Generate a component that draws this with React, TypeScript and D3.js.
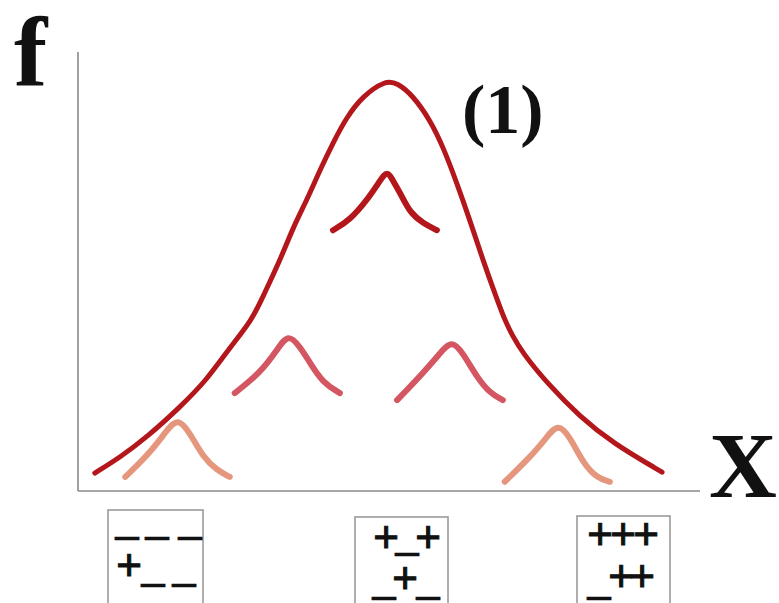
import * as d3 from "d3";

// main distribution (1); x in 0..10, f in 0..1
const mainX = [0.27, 0.68, 1.11, 1.64, 2.07, 2.41, 2.8, 2.97, 3.25, 3.46, 3.68, 3.89, 4.1, 4.32, 4.58, 4.94,
  5.13, 5.39, 5.66, 5.87, 6.09, 6.3, 6.51, 6.74, 6.86, 6.98, 7.15, 7.54, 8.07, 8.6, 9.39];
const mainF = [0.041, 0.077, 0.123, 0.191, 0.253, 0.321, 0.39, 0.442, 0.526, 0.601, 0.663, 0.731, 0.793, 0.852, 0.9, 0.935,
  0.93, 0.9, 0.845, 0.784, 0.702, 0.617, 0.526, 0.435, 0.39, 0.355, 0.314, 0.246, 0.169, 0.109, 0.043];

// small peaks
const topX = [4.1, 4.37, 4.65, 4.86, 4.97, 5.06, 5.18, 5.34, 5.55, 5.77];
const topF = [0.594, 0.617, 0.663, 0.708, 0.73, 0.708, 0.679, 0.633, 0.61, 0.594];
const midLeftX = [2.52, 2.93, 3.2, 3.38, 3.57, 3.73, 3.94, 4.21];
const midLeftF = [0.223, 0.269, 0.321, 0.36, 0.328, 0.292, 0.246, 0.223];
const midRightX = [5.13, 5.55, 5.82, 6.01, 6.19, 6.41, 6.62, 6.83];
const midRightF = [0.207, 0.269, 0.314, 0.344, 0.314, 0.26, 0.223, 0.207];
const lowLeftX = [0.76, 1.16, 1.43, 1.61, 1.8, 2.01, 2.23, 2.44];
const lowLeftF = [0.032, 0.087, 0.139, 0.167, 0.132, 0.077, 0.048, 0.032];
const lowRightX = [6.86, 7.27, 7.54, 7.72, 7.91, 8.12, 8.34, 8.55];
const lowRightF = [0.021, 0.077, 0.123, 0.155, 0.123, 0.064, 0.03, 0.021];

// spin configurations shown under the axis
const boxGlyphs = [
  ["–", "–", "–", "+", "–", "–"],
  ["+", "+", "–", "+", "–", "–"],
  ["+", "+", "+", "+", "+", "–"],
];

// layout
const boxes = [
  { x: 108, y: 510, w: 95 },
  { x: 355, y: 517, w: 93 },
  { x: 577, y: 516, w: 93 },
];
const glyphSpots = [
  [[127, 538], [157, 538], [190, 538], [129, 565], [153, 585], [184, 585]],
  [[386, 537], [428, 537], [407, 554], [405, 578], [384, 598], [428, 598]],
  [[600, 534], [623, 534], [646, 534], [621, 576], [642, 576], [599, 598]],
];

const W = 779;
const H = 603;

export default function App() {
  const x = d3.scaleLinear().domain([0, 10]).range([78, 700]);
  const y = d3.scaleLinear().domain([0, 1]).range([491, 52]);

  const line = d3
    .line<[number, number]>()
    .x((d) => x(d[0]))
    .y((d) => y(d[1]))
    .curve(d3.curveBasis);

  const zip = (xs: number[], fs: number[]) => xs.map((v, i) => [v, fs[i]] as [number, number]);

  const peaks = [
    { d: zip(topX, topF), color: "#b3171b" },
    { d: zip(midLeftX, midLeftF), color: "#d35662" },
    { d: zip(midRightX, midRightF), color: "#d35662" },
    { d: zip(lowLeftX, lowLeftF), color: "#e5977e" },
    { d: zip(lowRightX, lowRightF), color: "#e5977e" },
  ];

  const serif = "'Liberation Serif', 'DejaVu Serif', serif";
  const sans = "'Liberation Sans', Arial, sans-serif";
  const fs = 44;

  return (
    <svg width={W} height={H} style={{ position: "absolute", left: 0, top: 0, background: "#fff" }}>
      {/* axes */}
      <line x1={x(0)} x2={x(0)} y1={y(1)} y2={y(0)} stroke="#8a8a8a" strokeWidth={1.6} />
      <line x1={x(0)} x2={x(10)} y1={y(0)} y2={y(0)} stroke="#8a8a8a" strokeWidth={1.6} />

      <text x={14} y={86} fontFamily={serif} fontWeight="bold" fontSize={100} fill="#111">f</text>
      <text x={709} y={497} fontFamily={serif} fontWeight="bold" fontSize={94} fill="#111">X</text>
      <text x={462} y={133} fontFamily={serif} fontWeight="bold" fontSize={70} fill="#111">(1)</text>

      <path d={line(zip(mainX, mainF)) || ""} fill="none" stroke="#b3171b" strokeWidth={5} strokeLinecap="round" />
      {peaks.map((p, i) => (
        <path key={i} d={line(p.d) || ""} fill="none" stroke={p.color} strokeWidth={6} strokeLinecap="round" />
      ))}

      {boxes.map((b, i) => (
        <g key={i}>
          <rect x={b.x} y={b.y} width={b.w} height={H - b.y + 20} fill="none" stroke="#9a9a9a" strokeWidth={1.6} />
          {boxGlyphs[i].map((g, j) => {
            const [cx, cy] = glyphSpots[i][j];
            const off = g === "+" ? 0.35 : 0.265;
            return (
              <text key={j} x={cx} y={cy + off * fs} textAnchor="middle" fontFamily={sans} fontSize={fs}
                fill="#111" stroke="#111" strokeWidth={g === "+" ? 1 : 0.4}>
                {g}
              </text>
            );
          })}
        </g>
      ))}
    </svg>
  );
}
